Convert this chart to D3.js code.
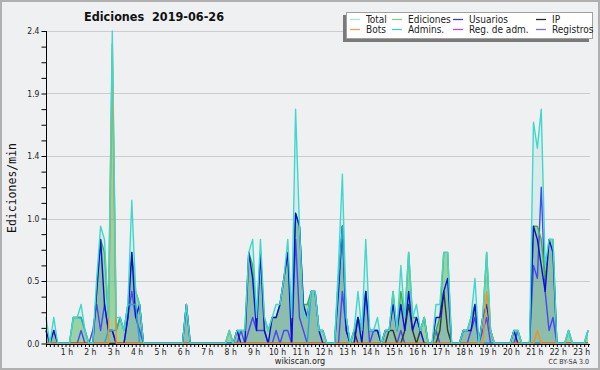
<!DOCTYPE html>
<html>
<head>
<meta charset="utf-8">
<script src="https://cdn.jsdelivr.net/npm/d3@7"></script>
<style>
  body { margin: 0; background: #fff; }
  svg text { font-family: "DejaVu Sans Condensed", "DejaVu Sans", sans-serif; }
</style>
</head>
<body>
<div id="chart"></div>
<script>
const width = 600;
const height = 370;

// 10-minute bins, values in edits per minute
const total = [
  0.2, 0, 0.2, 0, 0, 0, 0, 0.2, 0.2, 0.3, 0.1, 0,
  0, 0.5, 0.9, 0.8, 0.2, 2.4, 0.2, 0.2, 0.1, 0.3, 1.1, 0.4,
  0.3, 0, 0, 0, 0, 0, 0, 0, 0, 0, 0, 0,
  0.3, 0, 0, 0, 0, 0, 0, 0, 0, 0, 0, 0.1,
  0, 0.1, 0.1, 0.1, 0.7, 0.8, 0.2, 0.8, 0.2, 0.1, 0.2, 0.3,
  0.3, 0.5, 0.8, 0.2, 1.8, 0.9, 0.2, 0.2, 0.4, 0.4, 0.1, 0.1,
  0, 0, 0, 0.6, 1.3, 0.2, 0, 0.1, 0.4, 0.1, 0.8, 0.1,
  0.1, 0.2, 0, 0.1, 0.1, 0.4, 0.1, 0.6, 0.2, 0.7, 0.2, 0.3,
  0.1, 0.2, 0, 0, 0.3, 0.3, 0.7, 0.7, 0, 0, 0, 0.1,
  0.1, 0.2, 0.5, 0, 0.2, 0.7, 0.1, 0, 0, 0, 0, 0,
  0.1, 0.1, 0, 0, 0, 1.7, 1.5, 1.8, 0.6, 0.8, 0.8, 0,
  0, 0, 0.1, 0, 0, 0, 0, 0.1
];
const edits = [
  0.1, 0, 0.1, 0, 0, 0, 0, 0.2, 0.2, 0.2, 0.1, 0,
  0, 0.4, 0.8, 0.7, 0.2, 2.3, 0.1, 0.2, 0.1, 0.3, 0.7, 0.4,
  0.3, 0, 0, 0, 0, 0, 0, 0, 0, 0, 0, 0,
  0.3, 0, 0, 0, 0, 0, 0, 0, 0, 0, 0, 0.1,
  0, 0.1, 0.1, 0.1, 0.7, 0.6, 0.2, 0.7, 0.2, 0.1, 0.2, 0.2,
  0.3, 0.5, 0.7, 0.2, 1.0, 0.9, 0.3, 0.3, 0.4, 0.4, 0.1, 0.1,
  0, 0, 0, 0.5, 0.9, 0.2, 0, 0.1, 0.2, 0.1, 0.4, 0.1,
  0.1, 0.1, 0, 0.1, 0.1, 0.4, 0.1, 0.4, 0.2, 0.7, 0.2, 0.2,
  0.1, 0.2, 0, 0, 0.1, 0.2, 0.7, 0.7, 0, 0, 0, 0.1,
  0.1, 0.2, 0.3, 0, 0.2, 0.7, 0.1, 0, 0, 0, 0, 0,
  0.1, 0.1, 0, 0, 0, 0.9, 0.9, 0.8, 0.5, 0.8, 0.8, 0,
  0, 0, 0.1, 0, 0, 0, 0, 0.1
];
const users = [
  0.1, 0, 0.1, 0, 0, 0, 0, 0, 0, 0, 0, 0,
  0, 0.4, 0.8, 0.3, 0.1, 0.1, 0, 0, 0, 0.2, 0.7, 0.2,
  0.3, 0, 0, 0, 0, 0, 0, 0, 0, 0, 0, 0,
  0.3, 0, 0, 0, 0, 0, 0, 0, 0, 0, 0, 0,
  0, 0.1, 0, 0, 0.7, 0.5, 0.1, 0.7, 0.1, 0, 0.2, 0.2,
  0.3, 0.5, 0.7, 0, 1.0, 0.9, 0.3, 0.2, 0.4, 0.4, 0.1, 0,
  0, 0, 0, 0.4, 0.9, 0.1, 0, 0, 0.2, 0, 0.4, 0.1,
  0.1, 0.1, 0, 0.1, 0.1, 0.3, 0.1, 0.3, 0.1, 0.4, 0.1, 0.2,
  0.1, 0, 0, 0, 0.2, 0.2, 0.4, 0.5, 0, 0, 0, 0.1,
  0.1, 0.1, 0.3, 0, 0.2, 0.3, 0.1, 0, 0, 0, 0, 0,
  0.1, 0, 0, 0, 0, 0.9, 0.8, 0.6, 0.4, 0.8, 0.7, 0,
  0, 0, 0, 0, 0, 0, 0, 0
];
const ip = [
  0, 0, 0, 0, 0, 0, 0, 0, 0, 0, 0, 0,
  0, 0, 0, 0, 0, 0, 0, 0, 0, 0, 0, 0,
  0, 0, 0, 0, 0, 0, 0, 0, 0, 0, 0, 0,
  0, 0, 0, 0, 0, 0, 0, 0, 0, 0, 0, 0,
  0, 0, 0, 0, 0, 0, 0, 0, 0, 0, 0, 0,
  0, 0, 0, 0, 0, 0, 0, 0, 0, 0, 0, 0,
  0, 0, 0, 0, 0, 0, 0, 0.1, 0, 0, 0, 0,
  0, 0, 0, 0, 0.1, 0.1, 0, 0, 0.1, 0.3, 0.1, 0,
  0.1, 0.2, 0, 0, 0, 0.1, 0.4, 0.1, 0, 0, 0, 0,
  0, 0, 0, 0, 0, 0, 0, 0, 0, 0, 0, 0,
  0, 0, 0, 0, 0, 0, 0, 0, 0, 0, 0, 0,
  0, 0, 0, 0, 0, 0, 0, 0
];
const bots = [
  0, 0, 0, 0, 0, 0, 0, 0, 0, 0, 0, 0,
  0, 0, 0, 0, 0, 2.2, 0, 0, 0, 0, 0, 0,
  0, 0, 0, 0, 0, 0, 0, 0, 0, 0, 0, 0,
  0, 0, 0, 0, 0, 0, 0, 0, 0, 0, 0, 0.1,
  0, 0, 0, 0, 0, 0, 0, 0, 0, 0, 0, 0,
  0, 0, 0, 0, 0, 0, 0, 0, 0, 0, 0, 0,
  0, 0, 0, 0, 0, 0, 0, 0, 0, 0, 0, 0,
  0, 0, 0, 0, 0, 0, 0, 0, 0, 0, 0, 0,
  0, 0, 0, 0, 0, 0, 0, 0, 0, 0, 0, 0,
  0, 0, 0, 0, 0, 0.4, 0.1, 0, 0, 0, 0, 0,
  0, 0, 0, 0, 0, 0, 0.1, 0, 0, 0, 0, 0,
  0, 0, 0, 0, 0, 0, 0, 0
];
const admins = [
  0, 0, 0, 0, 0, 0, 0, 0.2, 0.2, 0.2, 0.1, 0,
  0, 0, 0, 0, 0.1, 0.1, 0.1, 0.2, 0.1, 0.3, 0.3, 0.3,
  0, 0, 0, 0, 0, 0, 0, 0, 0, 0, 0, 0,
  0, 0, 0, 0, 0, 0, 0, 0, 0, 0, 0, 0,
  0, 0, 0, 0, 0, 0, 0, 0, 0, 0, 0, 0,
  0, 0, 0, 0, 0, 0, 0, 0, 0.4, 0.4, 0.1, 0.1,
  0, 0, 0, 0.5, 0.9, 0.2, 0, 0, 0, 0, 0, 0,
  0, 0, 0, 0, 0, 0, 0, 0, 0, 0, 0, 0,
  0, 0, 0, 0, 0, 0, 0, 0, 0, 0, 0, 0,
  0, 0, 0, 0, 0, 0, 0, 0, 0, 0, 0, 0,
  0, 0, 0, 0, 0, 0, 0, 0, 0, 0, 0, 0,
  0, 0, 0.1, 0, 0, 0, 0, 0.1
];
const adminLogs = [
  0, 0, 0, 0, 0, 0, 0, 0, 0, 0, 0, 0,
  0, 0, 0, 0, 0, 0, 0, 0, 0, 0, 0, 0,
  0, 0, 0, 0, 0, 0, 0, 0, 0, 0, 0, 0,
  0, 0, 0, 0, 0, 0, 0, 0, 0, 0, 0, 0,
  0, 0, 0, 0, 0, 0, 0, 0, 0, 0, 0, 0,
  0, 0, 0, 0, 0, 0, 0, 0, 0, 0, 0, 0,
  0, 0, 0, 0, 0, 0, 0, 0, 0, 0, 0, 0,
  0, 0, 0, 0, 0, 0, 0, 0, 0, 0, 0, 0,
  0, 0, 0, 0, 0, 0, 0, 0, 0, 0, 0, 0,
  0, 0, 0, 0, 0, 0, 0, 0, 0, 0, 0, 0,
  0, 0, 0, 0, 0, 0, 0, 0, 0, 0, 0, 0,
  0, 0, 0, 0, 0, 0, 0, 0
];
const logs = [
  0, 0, 0, 0, 0, 0, 0, 0, 0, 0.1, 0, 0,
  0.1, 0.3, 0.1, 0.3, 0.1, 0.1, 0, 0, 0, 0.2, 0.4, 0.2,
  0.1, 0, 0, 0, 0, 0, 0, 0, 0, 0, 0, 0,
  0, 0, 0, 0, 0, 0, 0, 0, 0, 0, 0, 0,
  0, 0, 0.1, 0, 0.1, 0.2, 0.1, 0.1, 0.1, 0, 0, 0.1,
  0, 0.1, 0.1, 0, 0.8, 0.2, 0.1, 0, 0, 0, 0, 0,
  0, 0, 0, 0, 0.4, 0.1, 0, 0, 0.2, 0.1, 0.4, 0,
  0.1, 0.1, 0, 0, 0, 0, 0, 0.1, 0, 0, 0, 0,
  0, 0, 0, 0, 0.1, 0, 0, 0, 0, 0, 0, 0,
  0, 0.1, 0.2, 0, 0.1, 0.2, 0, 0, 0, 0, 0, 0,
  0, 0.1, 0, 0, 0, 0.6, 0.5, 1.2, 0.4, 0.1, 0.2, 0,
  0, 0, 0, 0, 0, 0, 0, 0
];

const hourLabels = ['1 h', '2 h', '3 h', '4 h', '5 h', '6 h', '7 h', '8 h', '9 h', '10 h', '11 h', '12 h',
  '13 h', '14 h', '15 h', '16 h', '17 h', '18 h', '19 h', '20 h', '21 h', '22 h', '23 h'];
const yTicks = [0, 0.48, 0.96, 1.44, 1.92, 2.4];

const legendItems = [
  { name: 'Total', color: '#a4e6de' },
  { name: 'Ediciones', color: '#86cc86' },
  { name: 'Usuarios', color: '#3a3acc' },
  { name: 'IP', color: '#2a2a2a' },
  { name: 'Bots', color: '#f3a040' },
  { name: 'Admins.', color: '#44c8d8' },
  { name: 'Reg. de adm.', color: '#cc44dd' },
  { name: 'Registros', color: '#7474e4' }
];

const svg = d3.select('#chart')
  .append('svg')
  .attr('width', width)
  .attr('height', height);

// background and frame
svg.append('rect')
  .attr('x', 1).attr('y', 1)
  .attr('width', width - 2).attr('height', height - 2)
  .attr('fill', '#eff0f1')
  .attr('stroke', '#b0b0b0')
  .attr('stroke-width', 2);

const x = d3.scaleLinear().domain([0, 139.5]).range([46, 590]);
const y = d3.scaleLinear().domain([0, 2.4]).range([343.5, 31]);

// grid
svg.append('g')
  .selectAll('line')
  .data(yTicks.slice(1))
  .enter()
  .append('line')
  .attr('x1', 46).attr('x2', 590)
  .attr('y1', d => Math.round(y(d)) + 0.5)
  .attr('y2', d => Math.round(y(d)) + 0.5)
  .attr('stroke', '#cccccc')
  .attr('stroke-width', 1);

const area = d3.area()
  .x((d, i) => x(i))
  .y0(y(0))
  .y1(d => y(d));

const line = d3.line()
  .x((d, i) => x(i))
  .y(d => y(d));

// filled series
svg.append('path').datum(total).attr('d', area)
  .attr('fill', 'rgba(70, 210, 200, 0.13)');
svg.append('path').datum(edits).attr('d', area)
  .attr('fill', 'rgba(70, 175, 70, 0.42)');
svg.append('path').datum(users).attr('d', area)
  .attr('fill', 'rgba(40, 40, 210, 0.12)');

// lines, back to front
const lineSeries = [
  { data: adminLogs, color: '#cc33cc' },
  { data: logs, color: '#4848f0' },
  { data: ip, color: '#2c3a30' },
  { data: edits, color: '#3cb43c' },
  { data: users, color: '#0c0cd8' },
  { data: admins, color: '#22a8d0' },
  { data: bots, color: '#f39020' },
  { data: total, color: '#40d8cc' }
];
lineSeries.forEach(function (s) {
  svg.append('path')
    .datum(s.data)
    .attr('d', line)
    .attr('fill', 'none')
    .attr('stroke', s.color)
    .attr('stroke-width', 1.4)
    .attr('stroke-linejoin', 'round');
});

// y axis
const yAxis = d3.axisLeft(y)
  .tickValues(d3.range(0, 21).map(k => k * 0.12))
  .tickSize(5)
  .tickFormat(d => {
    const k = Math.round(d / 0.12);
    return k % 4 === 0 ? d.toFixed(1) : '';
  });
const gy = svg.append('g')
  .attr('transform', 'translate(46.5,0)')
  .call(yAxis);
gy.select('.domain').attr('stroke', '#000').attr('d', 'M0,' + y(2.4) + 'V' + y(0));
gy.selectAll('.tick line').attr('stroke', '#000');
gy.selectAll('.tick text')
  .attr('x', -7)
  .style('font-size', '8.5px')
  .attr('fill', '#222');

// x axis
const xAxis = d3.axisBottom(x)
  .tickValues(d3.range(0, 140))
  .tickSize(3)
  .tickFormat(d => (d > 0 && d % 6 === 0) ? hourLabels[d / 6 - 1] : '');
const gx = svg.append('g')
  .attr('transform', 'translate(0,344)')
  .call(xAxis);
gx.select('.domain').attr('stroke', '#000').attr('d', 'M46,0.5H590');
gx.selectAll('.tick line').attr('stroke', '#000');
gx.selectAll('.tick text')
  .attr('y', 5)
  .attr('dx', -3)
  .style('font-size', '8.5px')
  .attr('fill', '#222');

// titles
svg.append('text')
  .attr('x', 154).attr('y', 21)
  .attr('text-anchor', 'middle')
  .style('font-size', '12.5px')
  .style('font-weight', 'bold')
  .style('white-space', 'pre')
  .attr('fill', '#111')
  .text('Ediciones\u00a0\u00a02019-06-26');

svg.append('text')
  .attr('transform', 'translate(16,188) rotate(-90)')
  .attr('text-anchor', 'middle')
  .style('font-family', '"DejaVu Sans Mono", monospace')
  .style('font-size', '11.5px')
  .attr('fill', '#111')
  .text('Ediciones/min');

svg.append('text')
  .attr('x', 300).attr('y', 364)
  .attr('text-anchor', 'middle')
  .style('font-size', '9px')
  .attr('fill', '#222')
  .text('wikiscan.org');

svg.append('text')
  .attr('x', 589).attr('y', 364)
  .attr('text-anchor', 'end')
  .style('font-size', '7px')
  .attr('fill', '#333')
  .text('CC BY-SA 3.0');

// legend
const legend = svg.append('g');
legend.append('rect')
  .attr('x', 343).attr('y', 15)
  .attr('width', 246).attr('height', 27)
  .attr('fill', '#7a7a7a');
legend.append('rect')
  .attr('x', 346.5).attr('y', 12.5)
  .attr('width', 246).attr('height', 26)
  .attr('fill', '#fff')
  .attr('stroke', '#a0a0a0');

const colX = [350, 392, 453, 536];
const rowY = [19.5, 29.5];
legendItems.forEach(function (d, i) {
  const cx = colX[i % 4];
  const cy = rowY[Math.floor(i / 4)];
  legend.append('line')
    .attr('x1', cx).attr('x2', cx + 10)
    .attr('y1', cy).attr('y2', cy)
    .attr('stroke', d.color)
    .attr('stroke-width', 1.3);
  legend.append('text')
    .attr('x', cx + 16).attr('y', cy + 3.5)
    .style('font-size', '10px')
    .attr('fill', '#222')
    .text(d.name);
});
</script>
</body>
</html>
